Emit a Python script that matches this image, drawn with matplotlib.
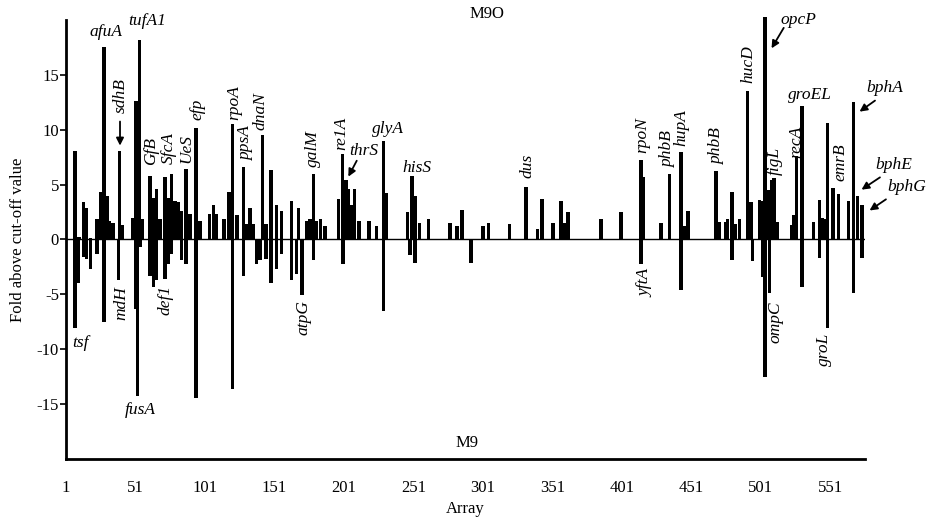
import matplotlib
matplotlib.use("Agg")
import matplotlib.pyplot as plt

plt.rcParams['font.family'] = ['Liberation Serif', 'DejaVu Serif']
plt.rcParams['axes.unicode_minus'] = False

# array positions and fold values
up_x = [7.5, 10.4, 13.5, 15.9, 18.5, 23.5, 26, 28.4, 30.7, 32.4, 35, 39.4, 41.6,
        49, 51.4, 53.8, 56.2, 61.5, 63.9, 66.3, 68.7, 72.3, 74.6, 77, 79.4, 81.8,
        84.2, 87.4, 90.2, 94.6, 97.5, 104.2, 107, 109.4, 114.7, 118.3, 121, 124,
        128.6, 131, 133.4, 135.8, 142.5, 145, 148.6, 152.7, 156.3, 163.4, 168.2,
        174.2, 176.6, 179, 181.5, 184.1, 187.3, 197, 200, 202.7, 204.4, 206.2,
        208.5, 211.9, 219, 224.6, 229.4, 231.8,
        246.7, 249.9, 252.3, 255.5, 262.1, 277.5, 282.3, 285.9, 301, 305.1, 320.2,
        332, 340.3, 343.5, 351.4, 357.2, 359.5, 362.2, 386.2, 400.6,
        414.8, 416.5, 429.4, 435.4, 443.6, 445.9, 448.6, 469, 471.4, 475.5, 477.2,
        480.3, 482.7, 485.7, 491.5, 493.9, 500.1, 502.3, 504.2, 506.6, 508.6,
        510.7, 513.1, 523.5, 525, 526.6, 530.6, 539, 543.3, 545.5, 547, 549.1,
        553, 557.1, 564.2, 567.8, 570.7, 573.9]
up_val = [8.1, 0.2, 3.4, 2.9, 0.15, 1.9, 4.3, 17.5, 4.0, 1.7, 1.5, 8.1, 1.3,
          2.0, 12.6, 18.2, 1.9, 5.8, 3.8, 4.6, 1.9, 5.7, 3.8, 6.0, 3.5, 3.4,
          2.6, 6.4, 2.3, 10.2, 1.7, 2.3, 3.1, 2.3, 1.9, 4.3, 10.5, 2.2,
          6.6, 1.4, 2.9, 1.4, 9.5, 1.4, 6.3, 3.1, 2.6, 3.5, 2.9,
          1.7, 1.9, 6.0, 1.7, 1.9, 1.2, 3.7, 7.8, 5.4, 4.6, 3.1,
          4.6, 1.7, 1.7, 1.2, 9.0, 4.2,
          2.5, 5.8, 4.0, 1.5, 1.9, 1.5, 1.2, 2.7, 1.2, 1.5, 1.4,
          4.8, 1.0, 3.7, 1.5, 3.5, 1.5, 2.5, 1.9, 2.5,
          7.2, 5.7, 1.5, 6.0, 8.0, 1.2, 2.6, 6.2, 1.6, 1.6, 1.9,
          4.3, 1.4, 1.9, 13.5, 3.4, 3.6, 3.5, 20.3, 4.5, 5.4,
          5.6, 1.6, 1.3, 2.2, 7.6, 12.2, 1.6, 3.6, 2.0, 1.9, 10.6,
          4.7, 4.1, 3.5, 12.5, 4.0, 3.1]

down_x = [7.5, 10, 13.5, 15.9, 18.5, 23.5, 28.4, 39, 51.4, 52.5, 54.5, 61.5, 63.9,
          66.3, 72.3, 74.6, 77, 84.2, 87.4, 94.6, 121, 128.6, 138, 140.5, 145,
          148.6, 152.7, 156.3, 163.4, 167, 171, 179, 200.5, 229.4, 248.5, 252.3,
          292.4, 415, 443.6, 480.3, 495, 502.5, 504.2, 507.4, 530.6, 543.3,
          549.1, 567.8, 573.9]
down_val = [-8.1, -4.0, -1.6, -1.8, -2.7, -1.3, -7.5, -3.7, -6.3, -14.3, -0.7, -3.3, -4.3,
            -3.7, -3.6, -2.2, -1.3, -1.9, -2.2, -14.4, -13.6, -3.3, -2.2, -1.9, -1.8,
            -4.0, -2.7, -1.3, -3.7, -3.1, -5.1, -1.9, -2.2, -6.5, -1.4, -2.1,
            -2.1, -2.2, -4.6, -1.9, -2.0, -3.4, -12.5, -4.9, -4.3, -1.7,
            -8.1, -4.9, -1.7]

# gene labels: text, x, y, rotation
genes = [("afuA", 29.8, 18.9, 0), ("tufA1", 59.3, 19.9, 0), ("sdhB", 40.6, 13.1, 90),
         ("GfB", 62.2, 8.1, 90), ("SfcA", 75.2, 8.3, 90), ("UeS", 87.4, 8.3, 90),
         ("efp", 95.3, 11.9, 90), ("rpoA", 121.9, 12.5, 90), ("ppsA", 130.6, 8.7, 90),
         ("dnaN", 140.7, 11.7, 90), ("galM", 178.8, 8.3, 90), ("re1A", 199, 9.7, 90),
         ("thrS", 215.5, 8.1, 0), ("glyA", 232.8, 10.1, 0), ("hisS", 253.7, 6.5, 0),
         ("dus", 332.9, 6.7, 90), ("rpoN", 415.7, 9.5, 90), ("yftA", 417.9, -4.0, 90),
         ("phbB", 434.4, 8.2, 90), ("hupA", 443.8, 10.2, 90), ("phbB", 469.7, 8.5, 90),
         ("hucD", 492, 16, 90), ("opcP", 528, 20, 0), ("figL", 511.4, 7.2, 90),
         ("recA", 526.6, 8.9, 90), ("groEL", 536.6, 13.2, 0), ("emrB", 558.2, 7.0, 90),
         ("groL", 546.7, -10, 90), ("ompC", 511.4, -7.5, 90), ("bphA", 590.6, 13.8, 0),
         ("bphE", 597.1, 6.8, 0), ("bphG", 605.8, 4.8, 0), ("tsf", 11.1, -9.4, 0),
         ("mdH", 40.6, -5.8, 90), ("fusA", 54.3, -15.5, 0), ("def1", 72.3, -5.5, 90),
         ("atpG", 172.3, -7.1, 90)]

# arrows: from (x, y) to (x, y)
arrows = [((39.9, 11.0), (39.9, 8.3)), ((211.2, 7.4), (203.3, 5.5)),
          ((518.6, 19.5), (507.8, 17.2)), ((584.9, 12.8), (570.5, 11.5)),
          ((588.5, 5.8), (571.9, 4.4)), ((592.8, 3.8), (577.7, 2.5))]

fig = plt.figure(figsize=(9.29, 5.23), dpi=100)
ax = fig.add_axes([0.071, 0.1224, 0.86, 0.8394])

ax.bar(up_x, up_val, width=2.5, color="black", linewidth=0, clip_on=False)
ax.bar(down_x, down_val, width=2.5, color="black", linewidth=0, clip_on=False)
ax.axhline(0, color="black", lw=1)

for name, gx, gy, rot in genes:
    ax.text(gx, gy, name, rotation=rot, style="italic", fontsize=12.5,
            ha="center", va="center")

for (x0, y0), (x1, y1) in arrows:
    ax.annotate("", xy=(x1, y1), xytext=(x0, y0),
                arrowprops=dict(arrowstyle="-|>", color="black", lw=1.3,
                                mutation_scale=11), annotation_clip=False)

ax.text(304, 20.5, "M9O", fontsize=12, ha="center", va="center")
ax.text(289.7, -18.5, "M9", fontsize=12, ha="center", va="center")

ax.set_xlim(1, 576)
ax.set_ylim(-20, 20)
ax.set_xticks(range(1, 552, 50))
ax.set_yticks([-15, -10, -5, 0, 5, 10, 15])
ax.tick_params(axis="x", length=0, labelsize=12, pad=15)
ax.tick_params(axis="y", length=4, width=1.2, labelsize=12, pad=1)
ax.spines["top"].set_visible(False)
ax.spines["right"].set_visible(False)
ax.spines["left"].set_linewidth(2)
ax.spines["bottom"].set_linewidth(2)
ax.set_xlabel("Array", fontsize=12, labelpad=4)
ax.set_ylabel("Fold above cut-off value", fontsize=12, labelpad=8)

fig.savefig("out.png", dpi=100)
